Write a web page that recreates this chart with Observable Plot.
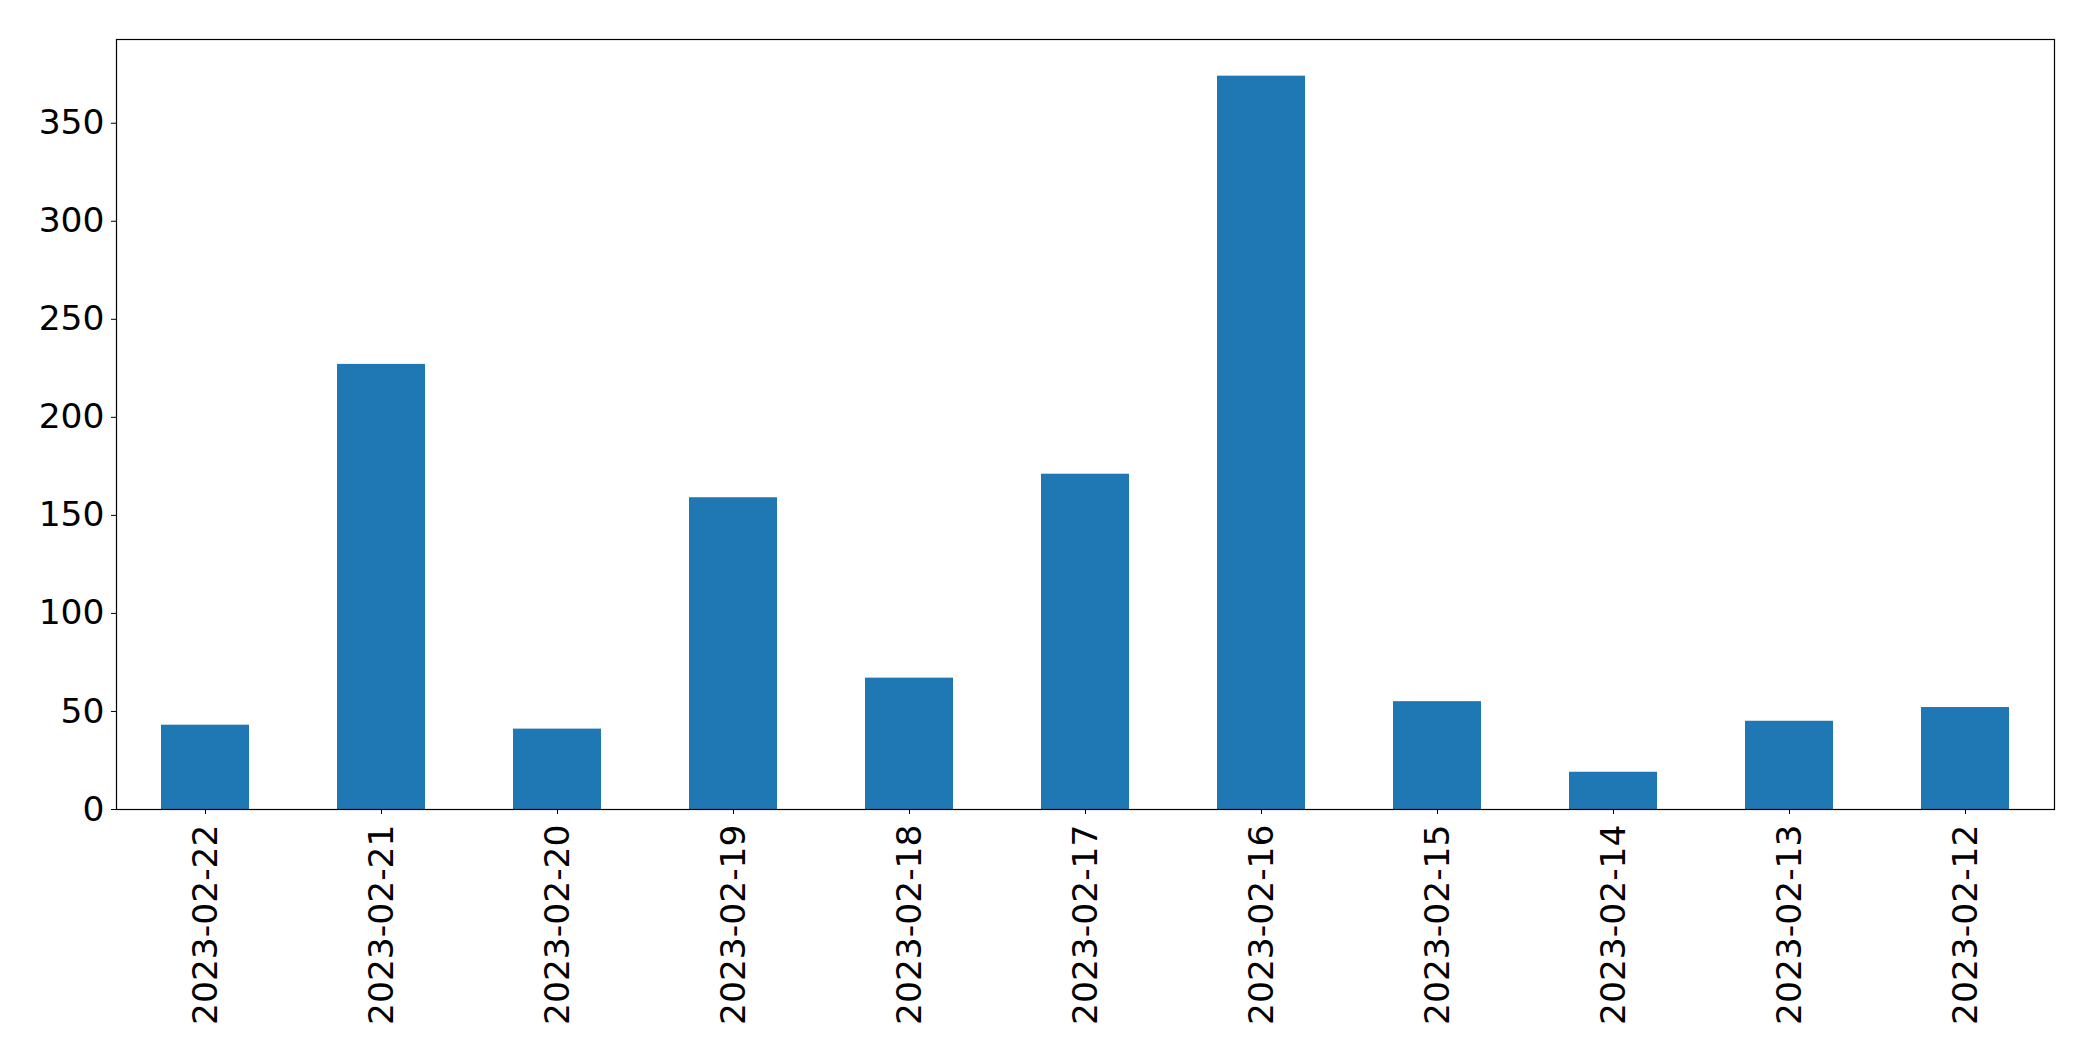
<!DOCTYPE html>
<html>
<head>
<meta charset="utf-8">
<script src="https://cdn.jsdelivr.net/npm/d3@7"></script>
<script src="https://cdn.jsdelivr.net/npm/@observablehq/plot@0.6"></script>
<style>
  html, body { margin: 0; padding: 0; background: #fff; }
</style>
</head>
<body>
<div id="chart"></div>
<script>
const dates = ["2023-02-22","2023-02-21","2023-02-20","2023-02-19","2023-02-18","2023-02-17","2023-02-16","2023-02-15","2023-02-14","2023-02-13","2023-02-12"];
const counts = [43, 227, 41, 159, 67, 171, 374, 55, 19, 45, 52];
const yTicks = [0, 50, 100, 150, 200, 250, 300, 350];

const data = dates.map((d, i) => ({date: d, value: counts[i]}));

const chart = Plot.plot({
  width: 2093,
  height: 1061,
  marginLeft: 116,
  marginRight: 39,
  marginTop: 39,
  marginBottom: 252,
  style: {fontFamily: "DejaVu Sans", fontSize: "34.5px", background: "#fff", color: "#000"},
  x: {domain: dates, paddingInner: 0.5, paddingOuter: 0.25},
  y: {domain: [0, 374 * 1.05]},
  marks: [
    Plot.barY(data, {x: "date", y: "value", fill: "#1f77b4"}),
    Plot.frame({stroke: "#000", strokeWidth: 1.2}),
    Plot.axisY({ticks: yTicks, tickSize: 5, tickPadding: 7, label: null, fontSize: 34.5}),
    Plot.axisX({tickSize: 5, tickPadding: 10, tickRotate: -90, label: null, fontSize: 34.5})
  ]
});
document.getElementById("chart").appendChild(chart);
</script>
</body>
</html>
